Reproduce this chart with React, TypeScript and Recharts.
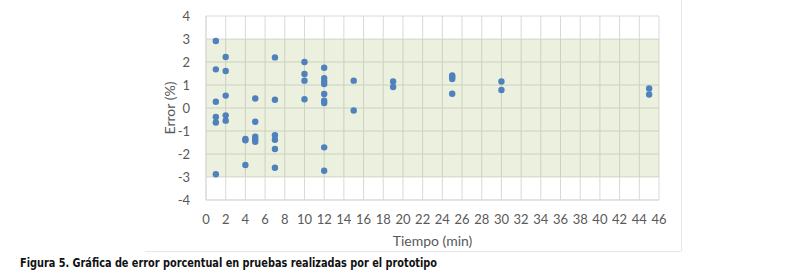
import React from "react";
import {
  ScatterChart,
  Scatter,
  XAxis,
  YAxis,
  CartesianGrid,
  ReferenceArea,
  Label,
} from "recharts";

// Time (min) of each measurement
const tiempos = [
  1, 1, 1, 1, 1, 1,
  2, 2, 2, 2, 2,
  4, 4, 4,
  5, 5, 5, 5, 5,
  7, 7, 7, 7, 7, 7,
  10, 10, 10, 10,
  12, 12, 12, 12, 12, 12, 12, 12, 12,
  15, 15,
  19, 19,
  25, 25, 25, 25,
  30, 30,
  45, 45,
];

// Percentage error of each measurement
const errores = [
  2.91, 1.68, 0.27, -0.39, -0.63, -2.88,
  2.22, 1.61, 0.54, -0.32, -0.55,
  -1.35, -1.4, -2.48,
  0.41, -0.6, -1.25, -1.36, -1.47,
  2.2, 0.36, -1.18, -1.38, -1.78, -2.6,
  2.0, 1.48, 1.19, 0.38,
  1.75, 1.3, 1.15, 1.04, 0.61, 0.32, 0.22, -1.71, -2.73,
  1.19, -0.11,
  1.15, 0.91,
  1.41, 1.34, 1.26, 0.62,
  1.15, 0.78,
  0.85, 0.59,
];

const xTicks = [0, 2, 4, 6, 8, 10, 12, 14, 16, 18, 20, 22, 24, 26, 28, 30, 32, 34, 36, 38, 40, 42, 44, 46];
const yTicks = [-4, -3, -2, -1, 0, 1, 2, 3, 4];
const bandLimits = [-3, 3];

const data = tiempos.map((t, i) => ({ t, e: errores[i] }));

const captionText =
  "Figura 5. Gráfica de error porcentual en pruebas realizadas por el prototipo";

const dot = (props: any) => (
  <circle cx={props.cx} cy={props.cy} r={3.2} fill="#4F81BD" />
);

const tickStyle = { fill: "#595959", fontSize: 13, fontFamily: "Lato, 'Open Sans', sans-serif" };

export default function App() {
  return (
    <div style={{ position: "absolute", left: 0, top: 0, width: 795, height: 271, background: "#fff" }}>
      <ScatterChart
        width={795}
        height={271}
        margin={{ top: 16, right: 136, bottom: 41, left: 166 }}
      >
        <CartesianGrid stroke="#d9d9d9" strokeWidth={1} />
        <ReferenceArea
          y1={bandLimits[0]}
          y2={bandLimits[1]}
          fill="#9BBB59"
          fillOpacity={0.2}
          stroke="none"
          ifOverflow="visible"
        />
        <XAxis
          type="number"
          dataKey="t"
          domain={[0, 46]}
          ticks={xTicks}
          interval={0}
          height={30}
          axisLine={{ stroke: "#d9d9d9" }}
          tickLine={false}
          tick={tickStyle}
          tickMargin={9}
        >
          <Label
            value="Tiempo (min)"
            position="insideBottom"
            offset={-16}
            style={{ fill: "#595959", fontSize: 14, fontFamily: "Lato, 'Open Sans', sans-serif" }}
          />
        </XAxis>
        <YAxis
          type="number"
          dataKey="e"
          domain={[-4, 4]}
          ticks={yTicks}
          interval={0}
          width={40}
          axisLine={{ stroke: "#d9d9d9" }}
          tickLine={false}
          tick={tickStyle}
          tickMargin={10}
        >
          <Label
            value="Error (%)"
            angle={-90}
            position="insideLeft"
            offset={4}
            style={{ textAnchor: "middle", fill: "#595959", fontSize: 14, fontFamily: "Lato, 'Open Sans', sans-serif" }}
          />
        </YAxis>
        <Scatter data={data} shape={dot} isAnimationActive={false} />
      </ScatterChart>
      <svg
        width={795}
        height={271}
        style={{ position: "absolute", left: 0, top: 0, pointerEvents: "none" }}
      >
        <line x1={145} y1={251.5} x2={681} y2={251.5} stroke="#e6e6e6" strokeWidth={1} />
        <line x1={681.5} y1={0} x2={681.5} y2={251} stroke="#e6e6e6" strokeWidth={1} />
        <text
          x={20}
          y={266.5}
          fontFamily="'DejaVu Sans', sans-serif"
          fontWeight="bold"
          fontSize={11.5}
          fill="#111"
          textLength={417}
          lengthAdjust="spacingAndGlyphs"
        >
          {captionText}
        </text>
      </svg>
    </div>
  );
}
